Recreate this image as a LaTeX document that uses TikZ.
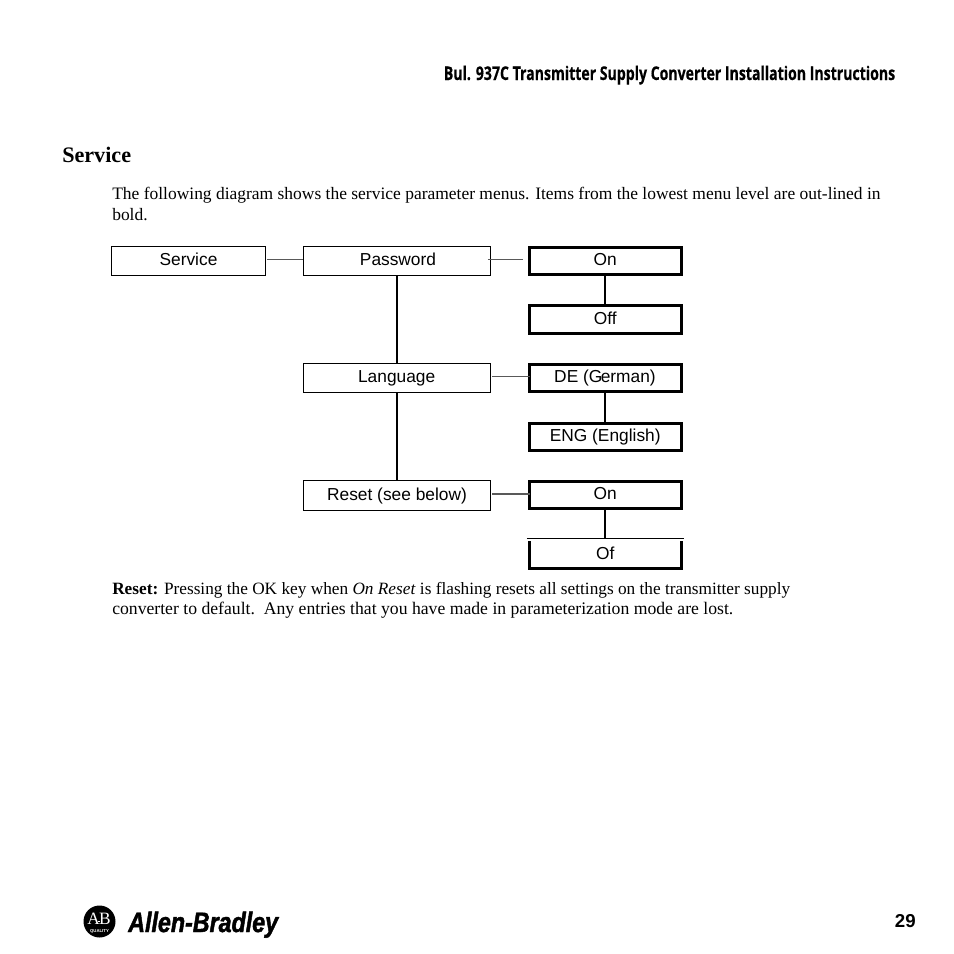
\documentclass[tikz,border=0pt]{standalone}
\usepackage{fontspec}
\setmainfont{Liberation Serif}
\setsansfont{Liberation Sans}
\newfontfamily\headfont[FakeStretch=0.745,FakeBold=0.4]{Open Sans}
\newfontfamily\brandfont[FakeStretch=0.83,FakeBold=1.6]{Liberation Sans}
\begin{document}
\begin{tikzpicture}[x=0.75pt,y=-0.75pt,
 bodytext/.style={anchor=base west,inner sep=0},
 box/.style={draw=black,inner sep=0,outer sep=0,align=center,text height=9.8pt,text depth=3pt,font=\sffamily\fontsize{13}{15}\selectfont},
 thinbox/.style={box,line width=0.75pt,minimum width=140.25pt},
 svcbox/.style={box,line width=0.75pt,minimum width=115.5pt,minimum height=21.75pt},
 boldbox/.style={box,line width=2.25pt,minimum width=114pt,minimum height=20.25pt},
 thinlink/.style={draw=black!65,line width=1.05pt},
 boldlink/.style={draw=black,line width=1.5pt}]
\useasboundingbox (0,0) rectangle (954,954);
\fill[white] (0,0) rectangle (954,954);
\node[anchor=base east,inner sep=0,font=\headfont\bfseries\fontsize{14.2}{16}\selectfont] (hdr) at (895.5,80) {Bul. 937C Transmitter Supply Converter Installation Instructions};
\node[anchor=base west,inner sep=0,font=\bfseries\fontsize{16.6}{18}\selectfont] (sec) at (62,162) {Service};
\node[bodytext,font=\fontsize{13.1}{14}\selectfont] (p1) at (112,199) {The following diagram shows the service parameter menus. Items from the lowest menu level are out-lined in};
\node[bodytext,font=\fontsize{13.1}{14}\selectfont] (p2) at (112,220) {bold.};
\node[svcbox] (svc) at (188.5,261) {Service};
\node[thinbox,minimum height=21.75pt] (pw) at (397,261) {\kern1.5pt Password};
\node[thinbox,minimum height=22.1pt] (lang) at (397,378.25) {\kern-.5pt Language};
\node[thinbox,minimum height=22.5pt,text height=10.5pt,text depth=2.3pt] (rst) at (397,495.5) {Reset (see below)};
\node[boldbox] (on1) at (605.5,261) {\kern-.4pt On};
\node[boldbox,minimum height=21pt] (off) at (605.5,319.5) {\kern-.4pt Off};
\node[boldbox] (de) at (605.5,378) {\kern-.8pt DE (G\kern-1.2pt erman)};
\node[boldbox] (eng) at (605.5,437) {\kern-.4pt ENG (English)};
\node[boldbox] (on2) at (605.5,495) {\kern-.4pt On};
\node[box,draw=none,minimum width=114pt,minimum height=21pt,text height=10.5pt,text depth=2.3pt] (of) at (605.5,554.5) {\kern-.4pt Of};
\draw[line width=1.3pt] ([xshift=-2pt,yshift=1.5pt]of.north west) -- ([xshift=1.6pt,yshift=1.5pt]of.north east);
\draw[line width=2.25pt] ([yshift=-0.4pt]of.north west) -- (of.south west) -- (of.south east) -- ([yshift=-0.4pt]of.north east);
\draw[thinlink] ([xshift=1.2pt,yshift=1pt]svc.east) -- ([xshift=-0.4pt,yshift=1pt]pw.west);
\draw[thinlink] ([xshift=-2pt,yshift=1pt]pw.east) -- ([xshift=-4.6pt,yshift=1pt]on1.west);
\draw[thinlink] ([xshift=1.2pt,yshift=1.4pt]lang.east) -- ([yshift=1.4pt]lang.east-|de.west);
\draw[thinlink] ([xshift=1.2pt,yshift=1.1pt]rst.east) -- ([yshift=1.1pt]rst.east-|on2.west);
\draw[boldlink] (pw) -- (lang);
\draw[boldlink] (lang) -- (rst);
\draw[boldlink] ([xshift=-0.5pt]on1.south) -- ([xshift=-0.5pt]off.north);
\draw[boldlink] ([xshift=-0.5pt]de.south) -- ([xshift=-0.5pt]eng.north);
\draw[boldlink] ([xshift=-0.5pt]on2.south) -- ([xshift=-0.5pt,yshift=1pt]of.north);
\node[bodytext,font=\fontsize{12.95}{14}\selectfont] (r1) at (112,594) {\textbf{Reset:} Pressing the OK key when \textit{On Reset} is flashing resets all settings on the transmitter supply};
\node[bodytext,font=\fontsize{13.25}{14}\selectfont] (r2) at (112,614) {converter to default.\ \ Any entries that you have made in parameterization mode are lost.};
\node[circle,fill=black,inner sep=0,minimum size=24pt] (logo) at (99.5,921.5) {};
\node[text=white,inner sep=0,font=\fontsize{13}{14}\selectfont] (ab) at (99,918.5) {A\kern-1.5pt\raisebox{2pt}{\rule{2pt}{0.5pt}}\kern-1pt B};
\node[text=white,inner sep=0,font=\sffamily\bfseries\fontsize{3.2}{4}\selectfont] (qual) at (99.5,931.5) {QUALITY};
\node[anchor=base west,inner sep=0,font=\brandfont\bfseries\itshape\fontsize{21}{23}\selectfont] (brand) at (128,932) {Allen-Bradley};
\node[anchor=base east,inner sep=0,font=\sffamily\bfseries\fontsize{14}{16}\selectfont] (pg) at (916,927) {29};
\end{tikzpicture}
\end{document}
